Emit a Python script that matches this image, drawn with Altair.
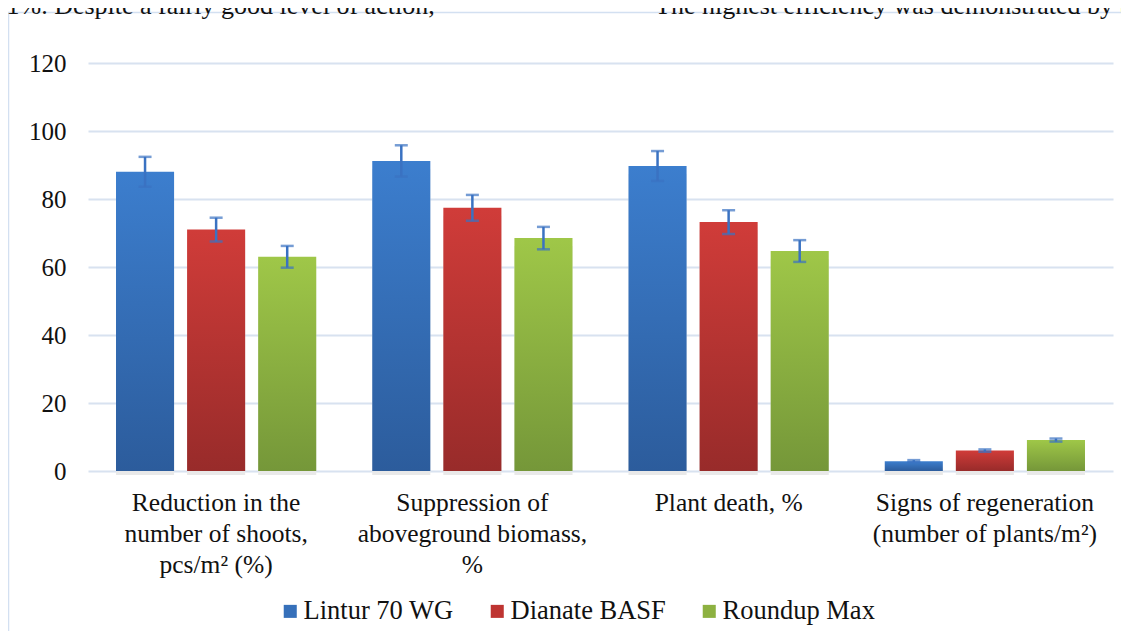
import altair as alt
import pandas as pd

categories = [
    "Reduction in the|number of shoots,|pcs/m² (%)",
    "Suppression of|aboveground biomass,|%",
    "Plant death, %",
    "Signs of regeneration|(number of plants/m²)",
]
series = ["Lintur 70 WG", "Dianate BASF", "Roundup Max"]
lintur = [88.0, 91.2, 89.7, 2.9]
dianate = [71.0, 77.4, 73.2, 6.0]
roundup = [63.0, 68.5, 64.7, 9.1]
lintur_err = [4.4, 4.6, 4.4, 0.3]
dianate_err = [3.5, 3.8, 3.5, 0.35]
roundup_err = [3.2, 3.3, 3.2, 0.45]
y_ticks = [0, 20, 40, 60, 80, 100, 120]
top_text_left = ".1%. Despite a fairly good level of action,"
top_text_right = "The highest efficiency was demonstrated by t"

legend_colors = ["#3670BA", "#BE3431", "#8DB141"]
gradients = {
    "Lintur 70 WG": ("#3C7ECE", "#2C5C9C"),
    "Dianate BASF": ("#D03C39", "#982B2A"),
    "Roundup Max": ("#9FC748", "#759739"),
}

rows = []
for vals, errs, s in [(lintur, lintur_err, series[0]),
                      (dianate, dianate_err, series[1]),
                      (roundup, roundup_err, series[2])]:
    for c, v, e in zip(categories, vals, errs):
        rows.append({"category": c, "series": s, "value": v,
                     "lo": v - e, "hi": v + e})
df = pd.DataFrame(rows)

FONT = "Liberation Serif"

x_enc = alt.X(
    "category:N",
    sort=categories,
    title=None,
    scale=alt.Scale(paddingInner=0, paddingOuter=0),
    axis=alt.Axis(
        labelExpr="split(datum.label, '|')",
        labelAngle=0,
        labelFont=FONT,
        labelFontSize=25.5,
        labelColor="#111111",
        labelLineHeight=31,
        labelPadding=19,
        labelLimit=500,
        domain=False,
        ticks=False,
        grid=False,
    ),
)
xoff_enc = alt.XOffset(
    "series:N",
    sort=series,
    scale=alt.Scale(domain=series, paddingInner=0.183, paddingOuter=0.394),
)
y_scale = alt.Scale(domain=[0, 120], nice=False)
y_enc = alt.Y(
    "value:Q",
    scale=y_scale,
    title=None,
    axis=alt.Axis(
        values=y_ticks,
        labelFont=FONT,
        labelFontSize=25,
        labelColor="#111111",
        labelPadding=22,
        domain=False,
        ticks=False,
        grid=True,
        gridColor="#D8E2F0",
        gridWidth=2,
    ),
)

base = alt.Chart(df)

border = alt.Chart(pd.DataFrame({"a": [0]})).mark_rect(
    filled=False, stroke="#D3E0F1", strokeWidth=1.5
).encode(
    x=alt.value(-79.5), x2=alt.value(1400),
    y=alt.value(-50.5), y2=alt.value(900),
)

txt_left = alt.Chart(pd.DataFrame({"t": [top_text_left]})).mark_text(
    align="left", baseline="alphabetic", font=FONT, fontSize=26, color="#111111"
).encode(text="t:N", x=alt.value(-88), y=alt.value(-49))
txt_right = alt.Chart(pd.DataFrame({"t": [top_text_right]})).mark_text(
    align="left", baseline="alphabetic", font=FONT, fontSize=26, color="#111111"
).encode(text="t:N", x=alt.value(567), y=alt.value(-49))

shadow = base.mark_bar(
    color="#E9E9E9", xOffset=-4, x2Offset=4, yOffset=8, y2Offset=4
).encode(x=x_enc, xOffset=xoff_enc, y=y_enc, y2=alt.datum(0))

bar_layers = []
for s in series:
    top, bottom = gradients[s]
    bar_layers.append(
        base.transform_filter(alt.datum.series == s).mark_bar(
            fill=alt.Gradient(
                gradient="linear", x1=0, x2=0, y1=0, y2=1,
                stops=[alt.GradientStop(color=top, offset=0),
                       alt.GradientStop(color=bottom, offset=1)],
            )
        ).encode(x=x_enc, xOffset=xoff_enc, y=y_enc)
    )

legend_layer = base.mark_square(opacity=0, size=1).encode(
    x=x_enc, xOffset=xoff_enc, y=y_enc,
    color=alt.Color(
        "series:N",
        sort=series,
        scale=alt.Scale(domain=series, range=legend_colors),
        legend=alt.Legend(
            title=None,
            orient="none",
            direction="horizontal",
            legendX=189,
            legendY=535,
            symbolType="square",
            symbolSize=170,
            symbolOpacity=1,
            symbolStrokeWidth=0,
            labelFont=FONT,
            labelFontSize=26.5,
            labelColor="#111111",
            labelOffset=0,
            labelLimit=400,
            columnPadding=30,
            padding=0,
        ),
    ),
)

err_rule = base.mark_rule(color="#3A72C2", strokeWidth=2.5).encode(
    x=x_enc, xOffset=xoff_enc,
    y=alt.Y("lo:Q", scale=y_scale), y2="hi:Q",
)
cap_hi = base.mark_tick(color="#3A72C2", size=13, thickness=2.5).encode(
    x=x_enc, xOffset=xoff_enc, y=alt.Y("hi:Q", scale=y_scale)
)
cap_lo = base.mark_tick(color="#3A72C2", size=13, thickness=2.5).encode(
    x=x_enc, xOffset=xoff_enc, y=alt.Y("lo:Q", scale=y_scale)
)

chart = alt.layer(
    border, txt_left, txt_right, shadow, *bar_layers, legend_layer,
    err_rule, cap_hi, cap_lo,
).properties(
    width=1025,
    height=408,
    autosize=alt.AutoSizeParams(type="none"),
    padding={"left": 80, "top": 55, "right": 8, "bottom": 160},
    background="white",
).configure(
    font=FONT,
).configure_view(stroke=None)

chart.save("out.html", embed_options={"renderer": "svg", "actions": False})
